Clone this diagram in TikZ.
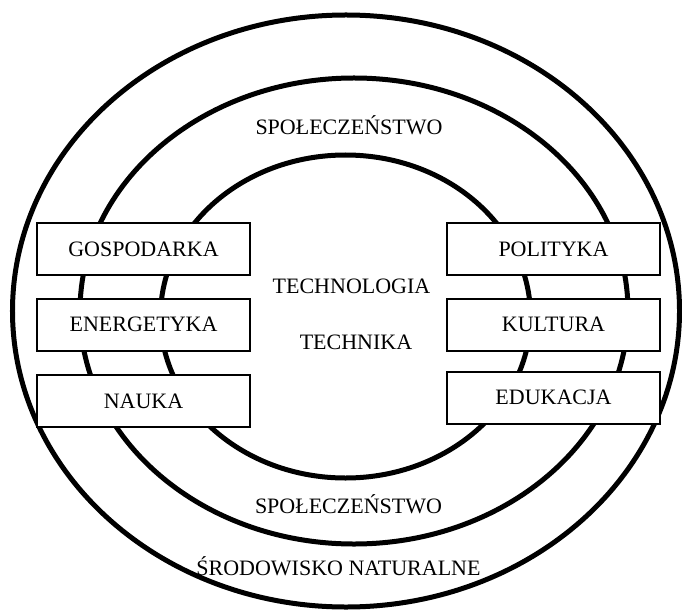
\documentclass[tikz,border=0pt]{standalone}
\usepackage{fontspec}
\setmainfont{Liberation Serif}
\begin{document}
\begin{tikzpicture}[x=1bp,y=-1bp,
  ring/.style={line width=5bp},
  sectorbox/.style={draw, line width=2bp, fill=white, minimum width=213bp,
    minimum height=52bp, inner sep=0pt, text height=14.5bp, text depth=0pt},
  lbl/.style={anchor=base, inner sep=0pt},
  every node/.style={font=\fontsize{22bp}{26bp}\selectfont}]
\useasboundingbox (0,0) rectangle (682,611);
% three nested spheres
\draw[ring] (346,311) ellipse [x radius=333.5bp, y radius=296bp];
\draw[ring] (354,311) ellipse [x radius=274bp, y radius=233bp];
\draw[ring] (345.5,316.5) ellipse [x radius=185bp, y radius=161.5bp];
% sphere labels
\node[lbl] (spoltop) at (349,135) {SPOŁECZEŃSTWO};
\node[lbl] (technologia) at (351.5,293) {TECHNOLOGIA};
\node[lbl] (technika) at (356,349) {TECHNIKA};
\node[lbl] (spolbot) at (348.5,513) {SPOŁECZEŃSTWO};
\node[lbl] (srodowisko) at (338.5,575) {ŚRODOWISKO NATURALNE};
% domains, left column
\node[sectorbox] (gospodarka) at (143.5,249) {GOSPODARKA};
\node[sectorbox] (energetyka) at (143.5,324.5) {ENERGETYKA};
\node[sectorbox] (nauka) at (143.5,401) {NAUKA};
% domains, right column
\node[sectorbox] (polityka) at (553.5,249) {POLITYKA};
\node[sectorbox] (kultura) at (553.5,324.5) {KULTURA};
\node[sectorbox] (edukacja) at (553.5,397.5) {EDUKACJA};
\end{tikzpicture}
\end{document}
